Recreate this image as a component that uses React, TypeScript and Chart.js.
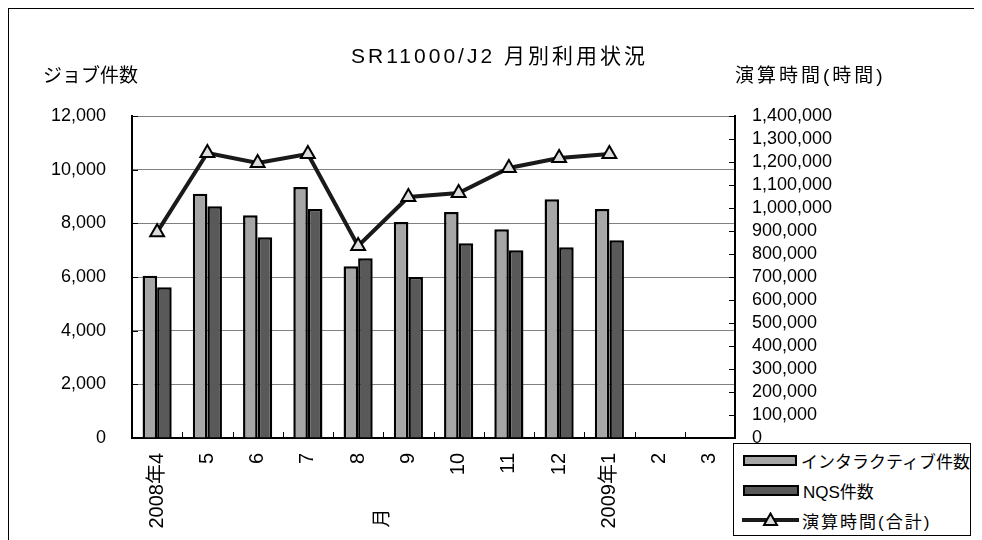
import { useEffect, useRef } from 'react';
import { Chart, registerables } from 'chart.js';

Chart.register(...registerables);

const FONT = "'Liberation Sans', 'Noto Sans CJK JP', sans-serif";

// ---- data ----
const categories = ['2008年4', '5', '6', '7', '8', '9', '10', '11', '12', '2009年1', '2', '3'];
const interactiveJobs = [6050, 9100, 8300, 9350, 6400, 8050, 8420, 7780, 8900, 8530, null, null];
const nqsJobs = [5620, 8640, 7480, 8530, 6700, 6000, 7260, 7000, 7110, 7370, null, null];
const computeHours = [895000, 1239000, 1196000, 1235000, 835000, 1048000, 1065000, 1174000, 1217000, 1235000, null, null];

const seriesNames = ['インタラクティブ件数', 'NQS件数', '演算時間(合計)'];
const chartTitle = 'SR11000/J2 月別利用状況';
const leftAxisTitle = 'ジョブ件数';
const rightAxisTitle = '演算時間(時間)';
const xAxisTitle = '月';

const jobsMax = 12000;
const jobsStep = 2000;
const hoursMax = 1400000;
const hoursStep = 100000;

const LIGHT = '#a6a6a6';
const DARK = '#595959';
const LINE = '#1a1a1a';
const MARK = '#dcdcdc';

const W = 973;
const H = 531;

const fmt = (v: number) => Number(v).toLocaleString('en-US');

const decor = {
  id: 'decor',
  afterDraw(chart: any) {
    const { ctx, chartArea: a, scales } = chart;
    const x = scales.x;
    const y = scales.y;
    const y1 = scales.y1;
    ctx.save();
    ctx.strokeStyle = '#000';
    ctx.lineWidth = 1;
    const seg = (x0: number, y0: number, x1: number, yy1: number) => {
      ctx.beginPath();
      ctx.moveTo(x0, y0);
      ctx.lineTo(x1, yy1);
      ctx.stroke();
    };
    y.ticks.forEach((t: any) => {
      const py = Math.round(y.getPixelForValue(t.value)) + 0.5;
      seg(a.left, py, a.left + 6, py);
    });
    y1.ticks.forEach((t: any) => {
      const py = Math.round(y1.getPixelForValue(t.value)) + 0.5;
      seg(a.right - 6, py, a.right, py);
    });
    for (let i = 0; i < categories.length - 1; i++) {
      const px = Math.round((x.getPixelForValue(i) + x.getPixelForValue(i + 1)) / 2) + 0.5;
      seg(px, a.bottom, px, a.bottom - 6);
    }

    ctx.fillStyle = '#000';
    ctx.textBaseline = 'middle';

    ctx.font = `21px ${FONT}`;
    (ctx as any).letterSpacing = '3px';
    ctx.textAlign = 'center';
    ctx.fillText(chartTitle, chart.width / 2 + 4, 48);

    ctx.textAlign = 'left';
    ctx.font = `19px ${FONT}`;
    (ctx as any).letterSpacing = '0px';
    ctx.fillText(leftAxisTitle, 34, 68);
    (ctx as any).letterSpacing = '3px';
    ctx.fillText(rightAxisTitle, a.right, 68);

    (ctx as any).letterSpacing = '0px';
    ctx.font = `19px ${FONT}`;
    const tx = (x.getPixelForValue(4) + x.getPixelForValue(5)) / 2;
    ctx.translate(tx, 509);
    ctx.rotate(-Math.PI / 2);
    ctx.textAlign = 'center';
    ctx.fillText(xAxisTitle, 0, 0);
    ctx.restore();
  },
};

export default function App() {
  const ref = useRef<HTMLCanvasElement>(null);

  useEffect(() => {
    if (!ref.current) return;
    const chart = new Chart(ref.current, {
      type: 'bar',
      data: {
        labels: categories,
        datasets: [
          {
            type: 'line',
            label: seriesNames[2],
            data: computeHours,
            yAxisID: 'y1',
            order: 0,
            borderColor: LINE,
            borderWidth: 4,
            tension: 0,
            pointStyle: 'triangle',
            pointRadius: 8,
            pointBorderWidth: 2,
            pointBackgroundColor: MARK,
            pointBorderColor: '#000',
          } as any,
          {
            type: 'bar',
            label: seriesNames[0],
            data: interactiveJobs,
            yAxisID: 'y',
            order: 1,
            backgroundColor: LIGHT,
            borderColor: '#000',
            borderWidth: 2.5,
            categoryPercentage: 0.58,
            barPercentage: 1,
          },
          {
            type: 'bar',
            label: seriesNames[1],
            data: nqsJobs,
            yAxisID: 'y',
            order: 1,
            backgroundColor: DARK,
            borderColor: '#000',
            borderWidth: 2.5,
            categoryPercentage: 0.58,
            barPercentage: 1,
          },
        ],
      },
      options: {
        responsive: false,
        animation: false,
        layout: { padding: { top: 107, left: 0, right: 0, bottom: 0 } },
        plugins: {
          legend: { display: false },
          title: { display: false },
          tooltip: { enabled: false },
        },
        scales: {
          x: {
            grid: { display: false, drawTicks: false },
            border: { display: true, color: '#000', width: 2 },
            ticks: {
              autoSkip: false,
              maxRotation: 90,
              minRotation: 90,
              padding: 15,
              color: '#000',
              font: { family: FONT, size: 20 },
            },
            afterFit: (s: any) => {
              s.height = 102;
            },
          },
          y: {
            position: 'left',
            min: 0,
            max: jobsMax,
            ticks: {
              stepSize: jobsStep,
              padding: 26,
              color: '#000',
              font: { family: FONT, size: 18 },
              callback: (v: any) => fmt(v),
            },
            grid: {
              drawTicks: false,
              color: (c: any) => (c.tick && c.tick.value === 0 ? 'rgba(0,0,0,0)' : '#808080'),
            },
            border: { display: true, color: '#000', width: 2 },
            afterFit: (s: any) => {
              s.width = 123;
            },
          },
          y1: {
            position: 'right',
            min: 0,
            max: hoursMax,
            ticks: {
              stepSize: hoursStep,
              autoSkip: false,
              padding: 17,
              color: '#000',
              font: { family: FONT, size: 18 },
              callback: (v: any) => fmt(v),
            },
            grid: { display: false, drawTicks: false },
            border: { display: true, color: '#000', width: 2 },
            afterFit: (s: any) => {
              s.width = 247;
            },
          },
        },
      } as any,
      plugins: [decor],
    });
    return () => chart.destroy();
  }, []);

  const swatch = (color: string) => (
    <div
      style={{
        width: 56,
        height: 11,
        marginLeft: 9,
        boxSizing: 'border-box',
        border: '2px solid #000',
        background: color,
      }}
    />
  );

  const rowStyle: React.CSSProperties = {
    height: 30,
    display: 'flex',
    alignItems: 'center',
  };
  const textStyle: React.CSSProperties = {
    marginLeft: 4,
    fontFamily: FONT,
    fontSize: 17,
    color: '#000',
    whiteSpace: 'nowrap',
  };

  return (
    <div
      style={{
        position: 'relative',
        width: 974,
        height: 532,
        boxSizing: 'border-box',
        borderTop: '1px solid #000',
        borderLeft: '1px solid #000',
        overflow: 'hidden',
        background: '#fff',
      }}
    >
      <canvas ref={ref} width={W} height={H} style={{ display: 'block', width: W, height: H }} />
      <div
        style={{
          position: 'absolute',
          left: 724,
          top: 434,
          width: 238,
          height: 93,
          boxSizing: 'border-box',
          border: '1px solid #000',
          background: '#fff',
          paddingTop: 1,
        }}
      >
        <div style={rowStyle}>
          {swatch(LIGHT)}
          <span style={textStyle}>{seriesNames[0]}</span>
        </div>
        <div style={rowStyle}>
          {swatch(DARK)}
          <span style={textStyle}>{seriesNames[1]}</span>
        </div>
        <div style={rowStyle}>
          <svg width={57} height={16} style={{ marginLeft: 8, display: 'block' }}>
            <line x1={0} y1={8} x2={57} y2={8} stroke={LINE} strokeWidth={4} />
            <polygon points="28.5,1.5 35,13 22,13" fill={MARK} stroke="#000" strokeWidth={2} />
          </svg>
          <span style={{ ...textStyle, marginLeft: 3, letterSpacing: 2 }}>{seriesNames[2]}</span>
        </div>
      </div>
    </div>
  );
}
